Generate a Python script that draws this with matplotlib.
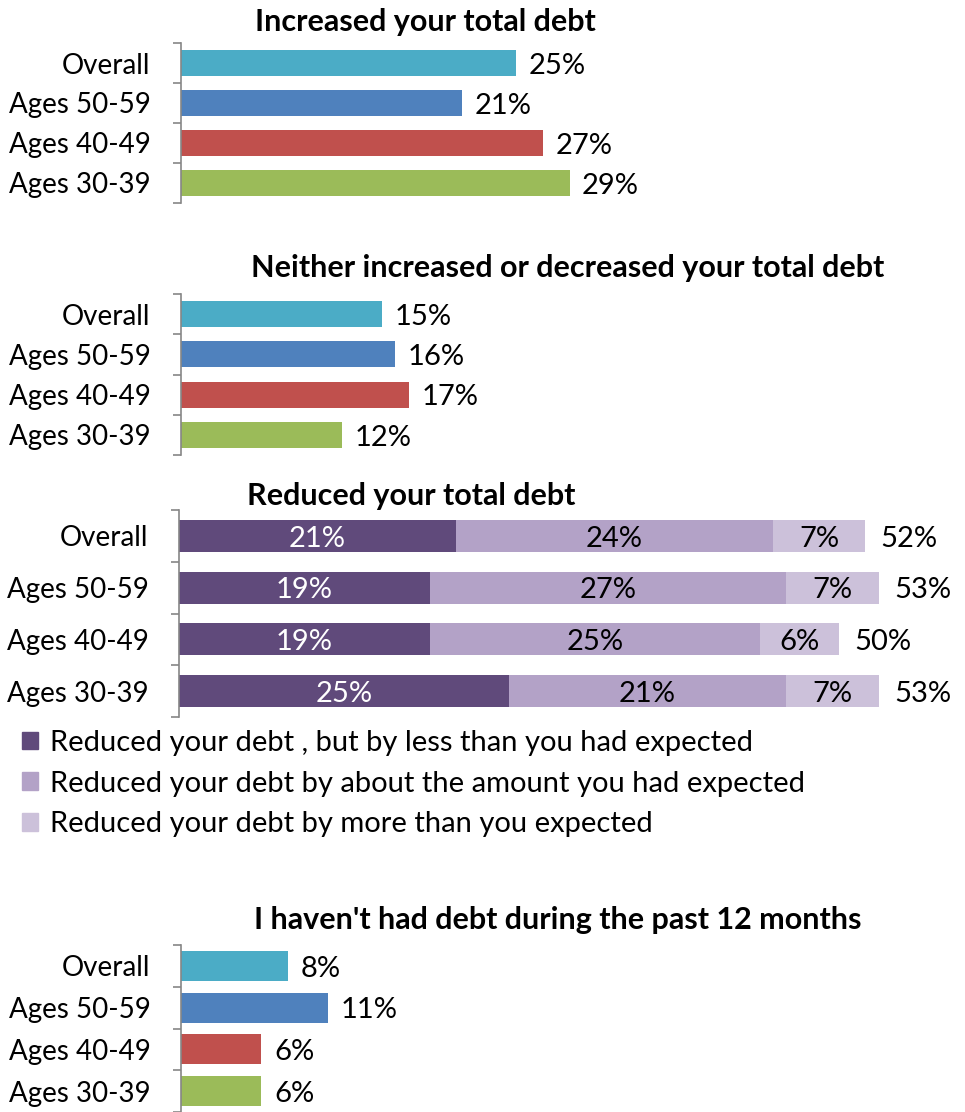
import matplotlib.pyplot as plt
from matplotlib.patches import Patch

plt.rcParams['font.family'] = ['Lato', 'DejaVu Sans']

groups = ['Overall', 'Ages 50-59', 'Ages 40-49', 'Ages 30-39']
group_colors = ['#4BACC6', '#4F81BD', '#C0504D', '#9BBB59']

increased = [25, 21, 27, 29]
neither = [15, 16, 17, 12]
no_debt = [8, 11, 6, 6]

reduced_less = [21, 19, 19, 25]
reduced_about = [24, 27, 25, 21]
reduced_more = [7, 7, 6, 7]
reduced_total = [52, 53, 50, 53]
reduced_names = ['Reduced your debt , but by less than you had expected',
                 'Reduced your debt by about the amount you had expected',
                 'Reduced your debt by more than you expected']
reduced_colors = ['#604A7B', '#B3A2C7', '#CCC1DA']

W, H = 965, 1112
fig = plt.figure(figsize=(W / 100, H / 100), dpi=100)

LABEL_SIZE = 20
VALUE_SIZE = 21
TITLE_SIZE = 22
GREY = '#868686'


def px_box(left, top, width, height):
    return [left / W, 1 - (top + height) / H, width / W, height / H]


def setup_axis(top, bottom, left, scale, width=760):
    ax = fig.add_axes(px_box(left, top, width, bottom - top))
    ax.set_xlim(0, width / scale)
    ax.set_ylim(len(groups) - 0.5, -0.5)
    for side in ['top', 'right', 'bottom']:
        ax.spines[side].set_visible(False)
    ax.spines['left'].set_color(GREY)
    ax.spines['left'].set_linewidth(1.2)
    ax.set_xticks([])
    ax.set_yticks(range(len(groups)), groups)
    ax.set_yticks([i - 0.5 for i in range(len(groups) + 1)], minor=True)
    ax.tick_params(axis='y', which='major', length=0, pad=22, labelsize=LABEL_SIZE)
    ax.tick_params(axis='y', which='minor', length=6, width=1.2, color=GREY)
    ax.patch.set_alpha(0)
    return ax


def title(text, cx, cy):
    fig.text(cx / W, 1 - cy / H, text, ha='center', va='center',
             fontsize=TITLE_SIZE, fontweight='bold')


def value_label(ax, x, y, text, dx=9, color='black', ha='left'):
    ax.annotate(text, (x, y), xytext=(dx, -2), textcoords='offset points',
                ha=ha, va='center', fontsize=VALUE_SIZE, color=color)


def simple_panel(values, top, bottom, bar_h):
    ax = setup_axis(top, bottom, 181, 13.4)
    bars = ax.barh(range(len(groups)), values, height=bar_h, color=group_colors)
    for b, v in zip(bars, values):
        value_label(ax, b.get_width(), b.get_y() + b.get_height() / 2, f'{v}%')
    return ax


# increased / neither / no debt
simple_panel(increased, 43, 203, 0.65)
title('Increased your total debt', 425, 22)

simple_panel(neither, 294, 455, 0.65)
title('Neither increased or decreased your total debt', 568, 268)

simple_panel(no_debt, 945, 1112, 0.72)
title("I haven't had debt during the past 12 months", 558, 920)

# reduced, stacked in three parts
ax = setup_axis(510, 717, 179, 13.2)
y = range(len(groups))
left = [0] * len(groups)
handles = []
for vals, col, name in zip([reduced_less, reduced_about, reduced_more],
                           reduced_colors, reduced_names):
    bars = ax.barh(y, vals, left=left, height=0.62, color=col)
    txt_color = 'white' if col == reduced_colors[0] else 'black'
    for b, v in zip(bars, vals):
        ax.annotate(f'{v}%', (b.get_x() + b.get_width() / 2, b.get_y() + b.get_height() / 2),
                    xytext=(0, -2), textcoords='offset points', ha='center', va='center',
                    fontsize=VALUE_SIZE, color=txt_color)
    left = [l + v for l, v in zip(left, vals)]
    handles.append(Patch(color=col, label=name))
for i, tot in enumerate(reduced_total):
    value_label(ax, left[i], i, f'{tot}%', dx=11)
title('Reduced your total debt', 411, 496)

fig.legend(handles=handles, loc='upper left', bbox_to_anchor=(22 / W, 1 - 730 / H),
           frameon=False, fontsize=21, handlelength=0.55, handleheight=0.55,
           handletextpad=0.4, labelspacing=0.5, borderpad=0, borderaxespad=0)

fig.savefig('out.png', dpi=100)
